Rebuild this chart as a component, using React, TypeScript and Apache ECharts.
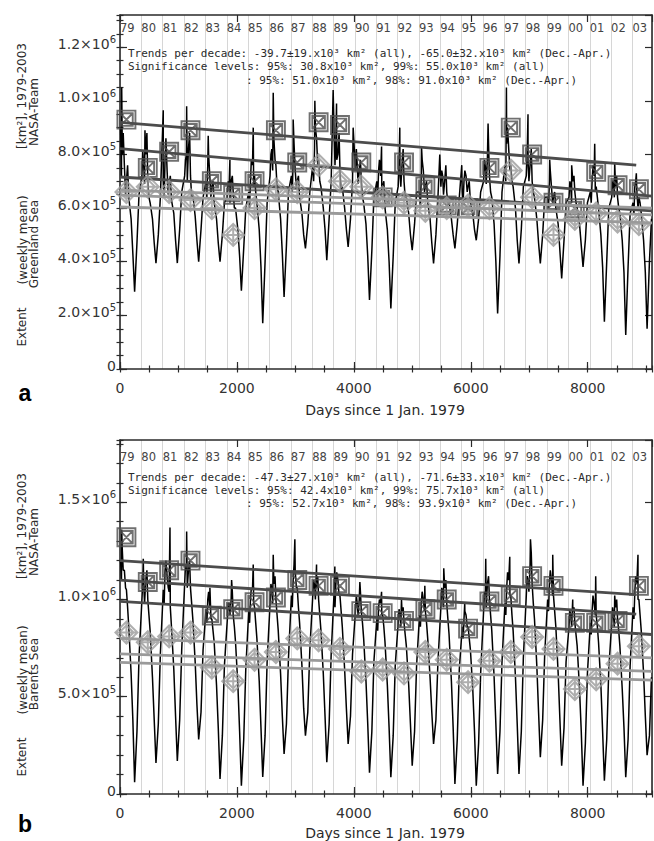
import React, { useEffect, useRef } from 'react';
import * as echarts from 'echarts';

// ---------------- data ----------------
const XMAX = 9100;
const YEAR_DAYS = 365.25;
// day-of-year of the sampled values in each yearly row (thousand km²)
const SAMPLE_DOY = [10, 25, 40, 55, 75, 95, 110, 130, 150, 190, 220, 250, 290, 325];
const MARKER_DOY = 110;

// (a) Greenland Sea weekly extent, sampled per year (10^3 km²)
const greenlandRows = [
  [900, 720, 800, 880, 760, 650, 700, 760, 640, 560, 430, 288, 470, 650],
  [720, 810, 760, 690, 800, 880, 700, 640, 620, 560, 470, 395, 500, 640],
  [700, 640, 780, 860, 740, 650, 690, 720, 630, 580, 480, 395, 520, 660],
  [720, 780, 800, 700, 820, 880, 720, 640, 650, 570, 480, 400, 520, 640],
  [700, 640, 760, 800, 720, 640, 680, 700, 620, 560, 470, 400, 500, 620],
  [640, 700, 680, 620, 700, 720, 660, 600, 600, 520, 420, 292, 450, 600],
  [660, 600, 700, 780, 760, 680, 720, 660, 620, 520, 380, 171, 400, 620],
  [720, 800, 820, 740, 860, 780, 760, 680, 660, 560, 430, 269, 460, 660],
  [720, 660, 780, 840, 740, 680, 700, 720, 640, 580, 500, 450, 540, 660],
  [760, 700, 820, 900, 860, 760, 780, 700, 680, 600, 520, 406, 560, 700],
  [880, 760, 860, 780, 800, 880, 740, 660, 680, 600, 520, 455, 560, 700],
  [740, 820, 760, 690, 740, 780, 700, 640, 620, 540, 420, 257, 440, 640],
  [700, 640, 740, 780, 720, 660, 680, 700, 600, 520, 400, 226, 420, 620],
  [680, 760, 740, 680, 760, 820, 700, 640, 640, 580, 500, 443, 540, 660],
  [660, 600, 720, 780, 740, 660, 680, 700, 620, 560, 470, 394, 500, 640],
  [680, 740, 720, 650, 700, 760, 660, 620, 620, 560, 500, 450, 540, 640],
  [660, 620, 700, 740, 720, 660, 680, 700, 620, 580, 520, 480, 560, 660],
  [700, 780, 760, 690, 780, 840, 720, 660, 640, 540, 400, 207, 420, 660],
  [760, 700, 840, 900, 820, 740, 760, 700, 680, 600, 480, 394, 520, 680],
  [720, 800, 780, 700, 760, 820, 700, 660, 640, 560, 470, 394, 500, 640],
  [640, 600, 700, 740, 680, 620, 640, 660, 600, 540, 440, 338, 480, 620],
  [640, 700, 680, 620, 700, 720, 660, 620, 600, 540, 460, 381, 480, 620],
  [660, 620, 700, 760, 720, 660, 680, 640, 600, 500, 380, 176, 400, 600],
  [640, 700, 700, 640, 680, 720, 640, 600, 580, 480, 360, 127, 380, 580],
  [620, 580, 680, 700, 660, 600, 640, 620, 580, 480, 360, 150, 400, 560],
];
const greenlandPeakDays = [29, 427, 740, 1140, 1509, 1880, 2279, 2621, 2962, 3333, 3646, 3704, 3988, 4474, 4786, 5157, 5470, 5846, 6296, 6610, 6979, 7350, 7726, 8120, 8462, 8832];
const greenlandPeaks = [1050, 890, 965, 980, 870, 780, 900, 1030, 930, 1000, 1040, 990, 900, 830, 900, 830, 800, 760, 915, 1050, 950, 780, 760, 840, 770, 730];
const greenlandDecApr = [930, 750, 810, 890, 700, 650, 700, 890, 770, 920, 910, 770, 640, 770, 680, 610, 600, 750, 900, 800, 620, 600, 735, 685, 670];
const greenlandAnnual = [660, 680, 660, 630, 600, 500, 600, 670, 660, 760, 700, 680, 640, 620, 590, 600, 610, 600, 740, 640, 500, 560, 580, 550, 540];
// trend lines: [day0, value0, day1, value1] (10^3 km²)
const greenlandTrendsDark = [[0, 920, 8830, 760], [0, 822, 9100, 645], [0, 716, 9100, 590]];
const greenlandTrendsLight = [[0, 667, 9100, 600], [0, 648, 9100, 575], [0, 604, 9100, 545]];

// (b) Barents Sea
const barentsRows = [
  [1200, 1100, 1250, 1150, 1150, 1060, 1050, 960, 860, 620, 380, 60, 320, 700],
  [1000, 1100, 1080, 980, 1100, 1150, 1000, 920, 840, 600, 380, 160, 360, 720],
  [1050, 980, 1150, 1200, 1120, 1060, 1040, 960, 860, 640, 400, 170, 380, 740],
  [1080, 1180, 1150, 1060, 1150, 1200, 1060, 980, 900, 680, 460, 280, 420, 740],
  [950, 880, 1000, 1040, 960, 900, 900, 840, 780, 560, 340, 77, 300, 660],
  [900, 980, 980, 920, 1000, 1040, 920, 860, 780, 560, 320, 43, 280, 640],
  [940, 880, 1000, 1060, 1050, 980, 960, 880, 800, 580, 340, 87, 300, 680],
  [980, 1080, 1050, 980, 1080, 1120, 1000, 920, 840, 620, 400, 206, 360, 700],
  [1020, 960, 1100, 1180, 1150, 1060, 1060, 960, 880, 660, 440, 300, 420, 740],
  [1020, 1100, 1080, 1000, 1060, 1120, 1000, 920, 840, 620, 400, 164, 360, 720],
  [1040, 960, 1080, 1140, 1100, 1020, 1020, 940, 860, 640, 440, 257, 400, 720],
  [940, 1020, 980, 920, 1000, 1040, 940, 880, 800, 580, 360, 110, 320, 680],
  [900, 840, 960, 1000, 980, 920, 920, 860, 780, 560, 340, 86, 300, 660],
  [880, 950, 920, 860, 940, 960, 880, 820, 760, 560, 360, 146, 320, 660],
  [920, 860, 980, 1040, 1000, 940, 940, 880, 800, 600, 420, 257, 380, 680],
  [960, 1060, 1040, 960, 1060, 1100, 980, 900, 820, 580, 340, 51, 280, 640],
  [860, 800, 900, 940, 920, 860, 860, 800, 740, 540, 320, 43, 260, 620],
  [940, 1040, 1020, 960, 1080, 1120, 1000, 920, 840, 600, 360, 103, 320, 680],
  [980, 920, 1060, 1140, 1100, 1020, 1020, 920, 840, 600, 360, 103, 320, 700],
  [1020, 1120, 1100, 1040, 1180, 1240, 1080, 980, 900, 660, 420, 189, 380, 720],
  [1000, 940, 1080, 1150, 1100, 1020, 1020, 940, 860, 620, 380, 146, 340, 680],
  [860, 940, 920, 860, 940, 960, 880, 820, 760, 540, 320, 43, 260, 620],
  [880, 820, 940, 1020, 980, 920, 920, 860, 780, 560, 320, 68, 280, 640],
  [880, 960, 920, 860, 960, 1000, 900, 840, 760, 540, 340, 86, 280, 660],
  [960, 900, 1040, 1120, 1080, 1000, 1000, 920, 840, 620, 400, 200, 300, 600],
];
const barentsPeakDays = [29, 398, 855, 1140, 1538, 1909, 2279, 2621, 2991, 3362, 3675, 4103, 4474, 4815, 5214, 5538, 5897, 6256, 6667, 7021, 7402, 7744, 8137, 8462, 8860];
const barentsPeaks = [1360, 1210, 1370, 1350, 1060, 1100, 1180, 1230, 1310, 1180, 1170, 1090, 1040, 1000, 1070, 1160, 980, 1210, 1220, 1310, 1230, 1000, 1120, 1020, 1230];
const barentsDecApr = [1320, 1090, 1150, 1200, 917, 950, 986, 1010, 1100, 1070, 1070, 940, 930, 890, 950, 1000, 850, 990, 1020, 1120, 1070, 880, 880, 890, 1070];
const barentsAnnual = [830, 780, 810, 830, 650, 580, 690, 730, 800, 790, 746, 630, 640, 620, 730, 690, 575, 685, 730, 807, 746, 540, 590, 670, 760];
const barentsTrendsDark = [[0, 1200, 8830, 1025], [0, 1100, 8830, 925], [0, 990, 9100, 820]];
const barentsTrendsLight = [[0, 800, 9100, 700], [0, 720, 9100, 630], [0, 677, 9100, 585]];

const textsA = [
  'Trends per decade: -39.7±19.x10³ km² (all), -65.0±32.x10³ km² (Dec.-Apr.)',
  'Significance levels: 95%: 30.8x10³ km², 99%: 55.0x10³ km² (all)',
  ': 95%: 51.0x10³ km², 98%: 91.0x10³ km² (Dec.-Apr.)',
];
const textsB = [
  'Trends per decade: -47.3±27.x10³ km² (all), -71.6±33.x10³ km² (Dec.-Apr.)',
  'Significance levels: 95%: 42.4x10³ km², 99%: 75.7x10³ km² (all)',
  ': 95%: 52.7x10³ km², 98%: 93.9x10³ km² (Dec.-Apr.)',
];

// ---------------- helpers ----------------
const FONT = 'DejaVu Sans';
const MONO = 'DejaVu Sans Mono';
const AXIS = '#2a2a2a';
const DARK = '#4c4c4c';
const LIGHT = '#9a9a9a';

const SQUARE = 'path://M0,0H20V20H0Z M3,3H17V17H3Z M3,3L17,17 M17,3L3,17';
const DIAMOND = 'path://M10,0L20,10L10,20L0,10Z M10,3.5L16.5,10L10,16.5L3.5,10Z M10,0V20 M0,10H20';

function blackData(rows: number[][], peakDays: number[], peaks: number[]) {
  const pts: number[][] = [];
  rows.forEach((r, i) =>
    r.forEach((v, k) => {
      const d = i * YEAR_DAYS + SAMPLE_DOY[k];
      if (d <= XMAX) pts.push([d, v * 1000]);
    })
  );
  peakDays.forEach((d, i) => pts.push([d, peaks[i] * 1000]));
  pts.sort((a, b) => a[0] - b[0]);
  return pts;
}
const markerData = (vals: number[]) => vals.map((v, i) => [i * YEAR_DAYS + MARKER_DOY, v * 1000]);

const tick = (len: number) => ({ show: true, inside: true, length: len, lineStyle: { color: AXIS, width: 1.2 } });
const axLine = { show: true, onZero: false, lineStyle: { color: AXIS, width: 1.6 } };

function xAxes(g: number, yearMargin: number) {
  const c = { type: 'value', gridIndex: g, min: 0, max: XMAX, splitLine: { show: false } };
  return [
    {
      ...c, position: 'bottom', interval: 2000, axisLine: axLine, axisTick: tick(7),
      axisLabel: {
        margin: 12, fontSize: 14, color: '#333', fontFamily: FONT, showMaxLabel: false,
        formatter: (v: number) => String(Math.round(v)),
      },
    },
    { ...c, position: 'bottom', interval: 500, axisLine: { show: false }, axisTick: tick(3.5), axisLabel: { show: false } },
    { ...c, position: 'top', interval: 2000, axisLine: axLine, axisTick: tick(7), axisLabel: { show: false } },
    { ...c, position: 'top', interval: 500, axisLine: { show: false }, axisTick: tick(3.5), axisLabel: { show: false } },
    {
      ...c, position: 'top', interval: YEAR_DAYS, axisLine: { show: false }, axisTick: { show: false },
      splitLine: { show: true, lineStyle: { color: '#d6d6d6', width: 1 } },
      axisLabel: {
        inside: true, margin: yearMargin, align: 'left', fontSize: 11.5, color: '#444', fontFamily: FONT,
        showMaxLabel: false,
        formatter: (v: number) => String((79 + Math.round(v / YEAR_DAYS)) % 100).padStart(2, '0'),
      },
    },
  ];
}

const yFmt = (v: number) => {
  if (v === 0) return '{m|0}';
  const e = Math.floor(Math.log10(v) + 1e-9);
  const mant = (v / Math.pow(10, e)).toFixed(1);
  return `{m|${mant}×10}{s|${e}}`;
};

function yAxes(g: number, max: number, major: number, minor: number) {
  const c = { type: 'value', gridIndex: g, min: 0, max, splitLine: { show: false } };
  return [
    {
      ...c, position: 'left', interval: major, axisLine: axLine, axisTick: tick(7),
      axisLabel: {
        margin: 4, formatter: yFmt, showMaxLabel: false, padding: [0, 0, 7, 0],
        rich: {
          m: { fontSize: 14, color: '#333', fontFamily: FONT, lineHeight: 18 },
          s: { fontSize: 10, color: '#333', fontFamily: FONT, lineHeight: 10, verticalAlign: 'top' },
        },
      },
    },
    { ...c, position: 'left', interval: minor, axisLine: { show: false }, axisTick: tick(3.5), axisLabel: { show: false } },
    { ...c, position: 'right', interval: major, axisLine: axLine, axisTick: tick(7), axisLabel: { show: false } },
    { ...c, position: 'right', interval: minor, axisLine: { show: false }, axisTick: tick(3.5), axisLabel: { show: false } },
  ];
}

function panelSeries(
  g: number, rows: number[][], peakDays: number[], peaks: number[],
  decApr: number[], annual: number[], dark: number[][], light: number[][]
) {
  const xi = g * 5;
  const yi = g * 4;
  const base = { xAxisIndex: xi, yAxisIndex: yi, silent: true, animation: false };
  const trend = (t: number[], color: string) => ({
    ...base, type: 'line', data: [[t[0], t[1] * 1000], [t[2], t[3] * 1000]], showSymbol: false,
    lineStyle: { color, width: 2.8 }, z: 3,
  });
  return [
    {
      ...base, type: 'line', data: blackData(rows, peakDays, peaks), showSymbol: false,
      lineStyle: { color: '#000', width: 1.5 }, z: 2,
    },
    ...dark.map((t) => trend(t, DARK)),
    {
      ...base, type: 'scatter', data: markerData(decApr), symbol: SQUARE, symbolSize: 18, symbolKeepAspect: true,
      itemStyle: { color: 'rgba(0,0,0,0)', borderColor: DARK, borderWidth: 1.9 }, z: 4,
    },
    ...light.map((t) => ({ ...trend(t, LIGHT), z: 5 })),
    {
      ...base, type: 'scatter', data: markerData(annual), symbol: DIAMOND, symbolSize: 22, symbolKeepAspect: true,
      itemStyle: { color: 'rgba(0,0,0,0)', borderColor: LIGHT, borderWidth: 2 }, z: 6,
    },
  ];
}

function txt(x: number, y: number, text: string, o: any = {}) {
  return {
    type: 'text', x, y, rotation: o.rotation || 0, silent: true, z: 100,
    style: {
      text, fill: o.fill || '#2a2a2a', fontSize: o.fontSize || 11.5, fontFamily: o.fontFamily || FONT,
      fontWeight: o.fontWeight || 'normal',
      align: o.align || 'left', textAlign: o.align || 'left',
      verticalAlign: 'middle', textVerticalAlign: 'middle',
    },
  };
}

function panelGraphics(
  dy: number, texts: string[], lineYs: number[],
  sea: string, letter: string, nameY: number, letterY: number
) {
  const R = Math.PI / 2;
  const rot = { rotation: R, align: 'center', fontSize: 12 };
  const mono = { fontSize: 11, fontFamily: MONO };
  return [
    txt(128, lineYs[0], texts[0], mono),
    txt(128, lineYs[1], texts[1], mono),
    txt(246, lineYs[2], texts[2], mono),
    txt(22, 327 + dy, 'Extent', rot),
    txt(23, 240 + dy, '(weekly mean)', rot),
    txt(22, 96 + dy, '[km²], 1979-2003', rot),
    txt(34, 244 + dy, sea, rot),
    txt(34, 112 + dy, 'NASA-Team', rot),
    txt(385, nameY, 'Days since 1 Jan. 1979', { align: 'center', fontSize: 14 }),
    txt(25, letterY, letter, { align: 'center', fontSize: 23, fontWeight: 'bold', fontFamily: 'Liberation Sans', fill: '#000' }),
  ];
}

export default function App() {
  const ref = useRef<HTMLDivElement>(null);
  useEffect(() => {
    if (!ref.current) return;
    const chart = echarts.init(ref.current, undefined, { renderer: 'svg' });
    const option: any = {
      animation: false,
      backgroundColor: '#ffffff',
      textStyle: { fontFamily: FONT },
      grid: [
        { left: 120, top: 15, width: 532, height: 354 },
        { left: 120, top: 440, width: 532, height: 354 },
      ],
      xAxis: [...xAxes(0, 7), ...xAxes(1, 11)],
      yAxis: [...yAxes(0, 1.32e6, 2e5, 5e4), ...yAxes(1, 1.82e6, 5e5, 1e5)],
      series: [
        ...panelSeries(0, greenlandRows, greenlandPeakDays, greenlandPeaks, greenlandDecApr, greenlandAnnual, greenlandTrendsDark, greenlandTrendsLight),
        ...panelSeries(1, barentsRows, barentsPeakDays, barentsPeaks, barentsDecApr, barentsAnnual, barentsTrendsDark, barentsTrendsLight),
      ],
      graphic: [
        ...panelGraphics(0, textsA, [53, 66.5, 80], 'Greenland Sea', 'a', 410, 393),
        ...panelGraphics(430, textsB, [477, 490, 503], 'Barents Sea', 'b', 833, 824),
      ],
    };
    chart.setOption(option);
    return () => chart.dispose();
  }, []);
  return (
    <div
      ref={ref}
      style={{ position: 'absolute', left: 0, top: 0, width: 654, height: 841, background: '#fff' }}
    />
  );
}
